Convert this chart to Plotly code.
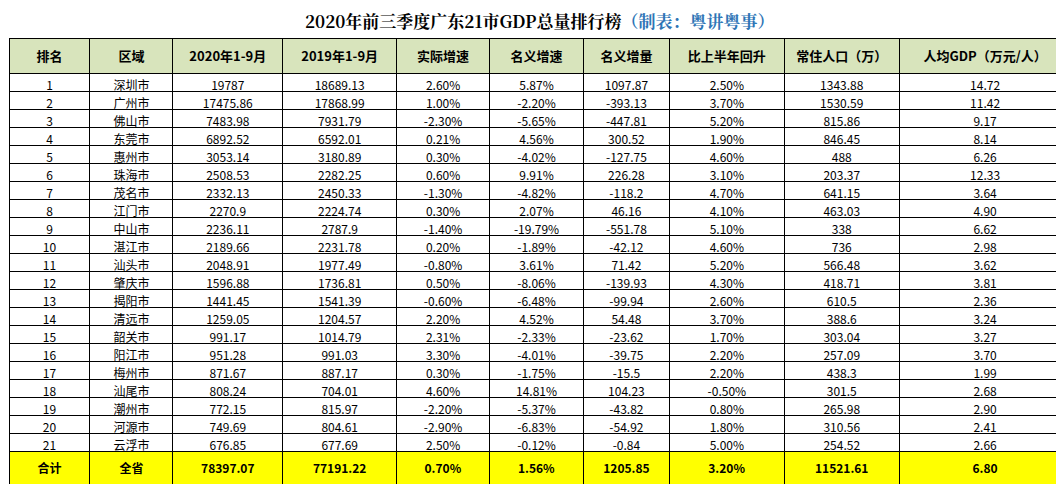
import plotly.graph_objects as go

headers = ["排名", "区域", "2020年1-9月", "2019年1-9月", "实际增速", "名义增速",
           "名义增量", "比上半年回升", "常住人口（万）", "人均GDP（万元/人）"]

rank = [str(i) for i in range(1, 22)] + ["合计"]
city = ["深圳市", "广州市", "佛山市", "东莞市", "惠州市", "珠海市", "茂名市", "江门市",
        "中山市", "湛江市", "汕头市", "肇庆市", "揭阳市", "清远市", "韶关市", "阳江市",
        "梅州市", "汕尾市", "潮州市", "河源市", "云浮市", "全省"]
gdp_2020 = ["19787", "17475.86", "7483.98", "6892.52", "3053.14", "2508.53", "2332.13",
            "2270.9", "2236.11", "2189.66", "2048.91", "1596.88", "1441.45", "1259.05",
            "991.17", "951.28", "871.67", "808.24", "772.15", "749.69", "676.85", "78397.07"]
gdp_2019 = ["18689.13", "17868.99", "7931.79", "6592.01", "3180.89", "2282.25", "2450.33",
            "2224.74", "2787.9", "2231.78", "1977.49", "1736.81", "1541.39", "1204.57",
            "1014.79", "991.03", "887.17", "704.01", "815.97", "804.61", "677.69", "77191.22"]
real_growth = ["2.60%", "1.00%", "-2.30%", "0.21%", "0.30%", "0.60%", "-1.30%", "0.30%",
               "-1.40%", "0.20%", "-0.80%", "0.50%", "-0.60%", "2.20%", "2.31%", "3.30%",
               "0.30%", "4.60%", "-2.20%", "-2.90%", "2.50%", "0.70%"]
nominal_growth = ["5.87%", "-2.20%", "-5.65%", "4.56%", "-4.02%", "9.91%", "-4.82%", "2.07%",
                  "-19.79%", "-1.89%", "3.61%", "-8.06%", "-6.48%", "4.52%", "-2.33%",
                  "-4.01%", "-1.75%", "14.81%", "-5.37%", "-6.83%", "-0.12%", "1.56%"]
nominal_incr = ["1097.87", "-393.13", "-447.81", "300.52", "-127.75", "226.28", "-118.2",
                "46.16", "-551.78", "-42.12", "71.42", "-139.93", "-99.94", "54.48", "-23.62",
                "-39.75", "-15.5", "104.23", "-43.82", "-54.92", "-0.84", "1205.85"]
rebound = ["2.50%", "3.70%", "5.20%", "1.90%", "4.60%", "3.10%", "4.70%", "4.10%", "5.10%",
           "4.60%", "5.20%", "4.30%", "2.60%", "3.70%", "1.70%", "2.20%", "2.20%", "-0.50%",
           "0.80%", "1.80%", "5.00%", "3.20%"]
population = ["1343.88", "1530.59", "815.86", "846.45", "488", "203.37", "641.15", "463.03",
              "338", "736", "566.48", "418.71", "610.5", "388.6", "303.04", "257.09", "438.3",
              "301.5", "265.98", "310.56", "254.52", "11521.61"]
gdp_per_capita = ["14.72", "11.42", "9.17", "8.14", "6.26", "12.33", "3.64", "4.90", "6.62",
                  "2.98", "3.62", "3.81", "2.36", "3.24", "3.27", "3.70", "1.99", "2.68",
                  "2.90", "2.41", "2.66", "6.80"]

columns = [rank, city, gdp_2020, gdp_2019, real_growth, nominal_growth,
           nominal_incr, rebound, population, gdp_per_capita]
# bold the total row
columns = [[v if i < len(col) - 1 else f"<b>{v}</b>" for i, v in enumerate(col)] for col in columns]

n = len(rank)
row_fill = ["white"] * (n - 1) + ["#FFFF00"]

fig = go.Figure(go.Table(
    columnwidth=[81, 83, 110, 114, 93, 94, 86, 115, 115, 172],
    header=dict(
        values=[f"<b>{h}</b>" for h in headers],
        fill_color="#D8E4BC",
        line_color="black",
        align="center",
        height=24,
        font=dict(family="Noto Sans CJK SC", size=13, color="black"),
    ),
    cells=dict(
        values=columns,
        fill_color=[row_fill] * len(columns),
        line_color="black",
        align="center",
        height=18,
        font=dict(family="Noto Sans CJK SC", size=12, color="black"),
    ),
    domain=dict(x=[0, 1], y=[0, 1]),
))

fig.add_annotation(
    x=0.5, y=1, xref="paper", yref="paper", yanchor="bottom", yshift=3, showarrow=False,
    text="<b>2020年前三季度广东21市GDP总量排行榜</b>"
         "<b><span style='color:#2E75B6'>（制表：粤讲粤事）</span></b>",
    font=dict(family="Noto Serif CJK SC, Noto Sans CJK SC", size=17, color="black"),
)

fig.update_layout(
    width=1064, height=484,
    margin=dict(l=1, r=1, t=30, b=0),
    paper_bgcolor="white",
)

fig.write_html("out.html")
